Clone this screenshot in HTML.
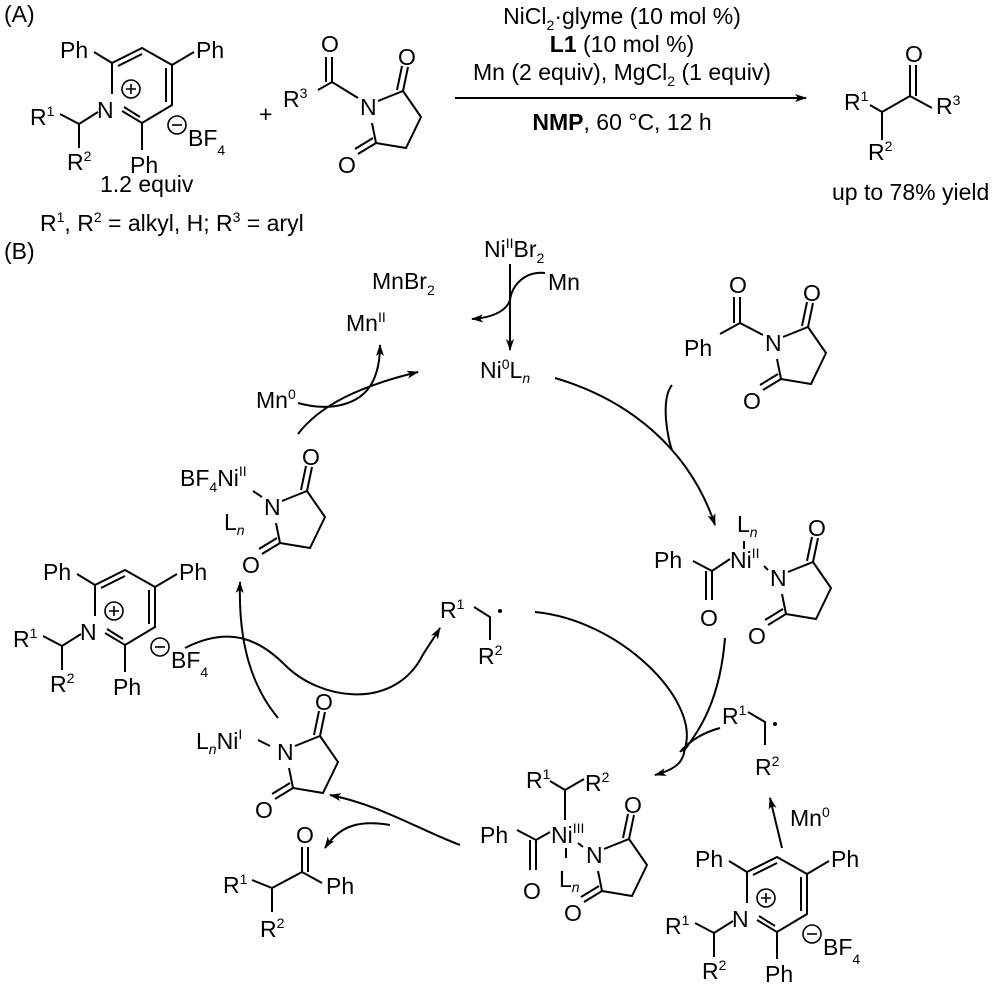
<!DOCTYPE html>
<html><head><meta charset="utf-8"><style>
html,body{margin:0;padding:0;background:#fff}
svg{display:block}
text{font-family:"Liberation Sans",Arial,sans-serif;font-size:23px;fill:#000}
.s{font-size:14px}
.i{font-style:italic}
</style></head><body>
<svg width="1000" height="995" viewBox="0 0 1000 995" xmlns="http://www.w3.org/2000/svg">
<defs>
<marker id="ah" viewBox="0 0 12 8" refX="11" refY="4" markerWidth="12" markerHeight="8" markerUnits="userSpaceOnUse" orient="auto">
<path d="M0,0 L12,4 L0,8 L3,4 Z" fill="#000"/></marker>
<g id="pyr">
<g stroke="#000" stroke-width="2" fill="none">
<path d="M2,-14 L2,-45 L32,-60 L62,-43 L62,-3 L32,15 L12,3"/>
<path d="M8,-42 L32,-54 M56,-40 L56,-6 M30,9 L14,-1"/>
<path d="M2,-45 L-16,-56 M62,-43 L84,-56 M32,15 L32,42"/>
<path d="M-12,4 L-31,16 L-50,6 M-31,16 L-31,40"/>
</g>
<text x="-13" y="10">N</text>
<circle cx="21" cy="-19" r="9" fill="none" stroke="#000" stroke-width="1.6"/>
<path d="M16,-19 h10 M21,-24 v10" stroke="#000" stroke-width="1.6"/>
<circle cx="67" cy="17" r="9" fill="none" stroke="#000" stroke-width="1.6"/>
<path d="M62,17 h10" stroke="#000" stroke-width="1.6"/>
<text x="-50" y="-50">Ph</text>
<text x="86" y="-50">Ph</text>
<text x="20" y="65">Ph</text>
<text x="78" y="38">BF<tspan class="s" dy="9">4</tspan></text>
<text x="-80" y="17">R<tspan class="s" dy="-9">1</tspan></text>
<text x="-43" y="62">R<tspan class="s" dy="-9">2</tspan></text>
</g>
<g id="succ">
<g stroke="#000" stroke-width="2" fill="none">
<path d="M10,-6 L35,-16 L53,10 L38,41 L8,36 L4,16"/>
<path d="M35,-16 L40,-40 M29,-17 L34,-41"/>
<path d="M8,36 L-10,47 M5,31 L-13,42"/>
</g>
<text x="-8" y="8">N</text>
<text x="30" y="-42">O</text>
<text x="-30" y="66">O</text>
</g>
</defs>

<!-- (A) -->
<text x="4" y="22">(A)</text>
<use href="#pyr" x="110" y="108"/>
<text x="100" y="192">1.2 equiv</text>
<text x="259" y="122">+</text>
<use href="#succ" x="368" y="107"/>
<g stroke="#000" stroke-width="2" fill="none">
<path d="M358,98 L332,82 L318,90 M332,82 L332,57 M326,82 L326,57"/>
</g>
<text x="321" y="52">O</text>
<text x="283" y="107">R<tspan class="s" dy="-9">3</tspan></text>
<text x="40" y="231">R<tspan class="s" dy="-9">1</tspan><tspan dy="9">, R</tspan><tspan class="s" dy="-9">2</tspan><tspan dy="9"> = alkyl, H; R</tspan><tspan class="s" dy="-9">3</tspan><tspan dy="9"> = aryl</tspan></text>

<text x="622" y="24" text-anchor="middle">NiCl<tspan class="s" dy="6">2</tspan><tspan dy="-6">·glyme (10 mol %)</tspan></text>
<text x="622" y="52" text-anchor="middle"><tspan font-weight="bold">L1</tspan> (10 mol %)</text>
<text x="622" y="80" text-anchor="middle">Mn (2 equiv), MgCl<tspan class="s" dy="6">2</tspan><tspan dy="-6"> (1 equiv)</tspan></text>
<line x1="455" y1="98" x2="806" y2="98" stroke="#000" stroke-width="2" marker-end="url(#ah)"/>
<text x="622" y="130" text-anchor="middle"><tspan font-weight="bold">NMP</tspan>, 60 °C, 12 h</text>

<g stroke="#000" stroke-width="2" fill="none">
<path d="M870,105 L882,112 L910,96 L932,108 M882,112 L882,140 M910,96 L910,65 M916,96 L916,65"/>
</g>
<text x="905" y="62">O</text>
<text x="844" y="110">R<tspan class="s" dy="-9">1</tspan></text>
<text x="936" y="114">R<tspan class="s" dy="-9">3</tspan></text>
<text x="868" y="160">R<tspan class="s" dy="-9">2</tspan></text>
<text x="832" y="200">up to 78% yield</text>

<!-- (B) -->
<text x="4" y="259">(B)</text>
<text x="484" y="257">Ni<tspan class="s" dy="-9">II</tspan><tspan dy="9">Br</tspan><tspan class="s" dy="6">2</tspan></text>
<text x="548" y="290">Mn</text>
<text x="372" y="289">MnBr<tspan class="s" dy="6">2</tspan></text>
<text x="346" y="331">Mn<tspan class="s" dy="-9">II</tspan></text>
<text x="480" y="378">Ni<tspan class="s" dy="-9">0</tspan><tspan dy="9">L</tspan><tspan class="s i" dy="5">n</tspan></text>
<text x="256" y="408">Mn<tspan class="s" dy="-9">0</tspan></text>
<g stroke="#000" stroke-width="2" fill="none">
<path d="M510,264 L510,350" marker-end="url(#ah)"/>
<path d="M545,273 C525,271 512,285 510,300 C506,312 490,318 472,319" marker-end="url(#ah)"/>
<path d="M298,403 C330,412 360,405 372,383 C378,372 380,360 380,345" marker-end="url(#ah)"/>
<path d="M298,434 C320,405 360,386 418,372" marker-end="url(#ah)"/>
<path d="M555,378 C630,400 690,450 715,525" marker-end="url(#ah)"/>
<path d="M672,385 C660,400 668,440 672,450"/>
</g>

<!-- top right acyl succinimide -->
<use href="#succ" x="773" y="343"/>
<g stroke="#000" stroke-width="2" fill="none"><path d="M763,335 L740,323 L720,334 M740,323 L740,297 M734,323 L734,297"/></g>
<text x="729" y="293">O</text>
<text x="684" y="356">Ph</text>

<!-- Ni II complex -->
<use href="#succ" x="778" y="578"/>
<g stroke="#000" stroke-width="2" fill="none"><path d="M730,559 L712,571 L693,561 M712,571 L712,600 M706,571 L706,600 M744,541 L744,549 M764,566 L768,570"/></g>
<text x="654" y="568">Ph</text>
<text x="730" y="568">Ni<tspan class="s" dy="-10">II</tspan></text>
<text x="737" y="532">L<tspan class="s i" dy="5">n</tspan></text>
<text x="700" y="626">O</text>

<!-- BF4NiII succinimide -->
<use href="#succ" x="272" y="507"/>
<text x="180" y="486">BF<tspan class="s" dy="6">4</tspan><tspan dy="-6">Ni</tspan><tspan class="s" dy="-10">II</tspan></text>
<text x="224" y="530">L<tspan class="s i" dy="5">n</tspan></text>
<line x1="253" y1="491" x2="262" y2="497" stroke="#000" stroke-width="2"/>

<!-- left pyridinium -->
<use href="#pyr" x="93" y="630"/>

<!-- radical center -->
<g stroke="#000" stroke-width="2" fill="none"><path d="M474,607 L490,617 L490,640"/></g>
<circle cx="500" cy="611" r="2" fill="#000"/>
<text x="440" y="618">R<tspan class="s" dy="-9">1</tspan></text>
<text x="478" y="664">R<tspan class="s" dy="-9">2</tspan></text>

<g stroke="#000" stroke-width="2" fill="none">
<path d="M185,648 C230,625 260,640 285,665 C320,700 390,710 420,660 C425,650 433,640 440,628" marker-end="url(#ah)"/>
<path d="M278,718 C255,690 238,650 240,582" marker-end="url(#ah)"/>
<path d="M535,612 C620,620 700,700 685,748 C683,760 680,768 655,775" marker-end="url(#ah)"/>
<path d="M725,638 C720,700 700,730 683,752"/>
<path d="M720,728 C705,732 690,740 680,752"/>
</g>

<!-- right radical -->
<g stroke="#000" stroke-width="2" fill="none"><path d="M748,712 L765,722 L765,745"/></g>
<circle cx="775" cy="724" r="2" fill="#000"/>
<text x="722" y="724">R<tspan class="s" dy="-9">1</tspan></text>
<text x="755" y="775">R<tspan class="s" dy="-9">2</tspan></text>
<line x1="782" y1="848" x2="770" y2="798" stroke="#000" stroke-width="2" marker-end="url(#ah)"/>
<text x="790" y="826">Mn<tspan class="s" dy="-9">0</tspan></text>

<!-- right bottom pyridinium -->
<use href="#pyr" x="745" y="917"/>

<!-- Ni III complex -->
<use href="#succ" x="594" y="855"/>
<g stroke="#000" stroke-width="2" fill="none">
<path d="M550,832 L536,840 L517,830 M536,840 L536,870 M530,840 L530,870 M565,820 L565,790 L550,781 M565,790 L584,779 M566,848 L566,858 M578,843 L583,847"/>
</g>
<text x="480" y="843">Ph</text>
<text x="551" y="843">Ni<tspan class="s" dy="-10">III</tspan></text>
<text x="559" y="887">L<tspan class="s i" dy="5">n</tspan></text>
<text x="523" y="899">O</text>
<text x="526" y="788">R<tspan class="s" dy="-9">1</tspan></text>
<text x="585" y="791">R<tspan class="s" dy="-9">2</tspan></text>

<!-- LnNiI succinimide -->
<use href="#succ" x="285" y="752"/>
<text x="196" y="749">L<tspan class="s i" dy="5">n</tspan><tspan dy="-5">Ni</tspan><tspan class="s" dy="-10">I</tspan></text>
<line x1="258" y1="740" x2="270" y2="746" stroke="#000" stroke-width="2"/>

<g stroke="#000" stroke-width="2" fill="none">
<path d="M460,845 C420,830 380,805 330,795" marker-end="url(#ah)"/>
<path d="M390,825 C360,820 340,825 325,848" marker-end="url(#ah)"/>
</g>

<!-- bottom-left product -->
<g stroke="#000" stroke-width="2" fill="none">
<path d="M252,880 L272,888 L302,872 L322,883 M272,888 L272,912 M302,872 L302,847 M308,872 L308,847"/>
</g>
<text x="296" y="843">O</text>
<text x="223" y="893">R<tspan class="s" dy="-9">1</tspan></text>
<text x="326" y="894">Ph</text>
<text x="260" y="937">R<tspan class="s" dy="-9">2</tspan></text>
</svg>
</body></html>
